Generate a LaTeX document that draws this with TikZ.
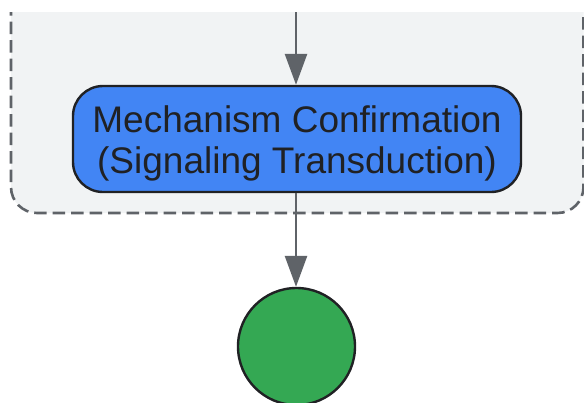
\documentclass[tikz,border=0pt]{standalone}
\usepackage{fontspec}
\setmainfont{Liberation Sans}
\usetikzlibrary{arrows.meta}
\definecolor{clusterbg}{HTML}{F1F3F4}
\definecolor{clusterline}{HTML}{5F6368}
\definecolor{nodeblue}{HTML}{4285F4}
\definecolor{nodegreen}{HTML}{34A853}
\definecolor{darkline}{HTML}{202124}
\definecolor{arrowgray}{HTML}{5F6368}
\tikzset{
  cluster/.style={fill=clusterbg, draw=clusterline, line width=2.6pt, dash pattern=on 12.5pt off 6pt, rounded corners=26pt},
  procbox/.style={draw=darkline, fill=nodeblue, line width=2.4pt, rounded corners=30pt, minimum width=448pt, minimum height=106pt, inner sep=0pt},
  proctext/.style={inner sep=0pt, align=center, text=darkline, font=\fontsize{37}{41}\selectfont},
  endcircle/.style={circle, draw=darkline, fill=nodegreen, line width=2.4pt, minimum size=117pt, inner sep=0pt},
  flow/.style={draw=arrowgray, line width=2.7pt, -{Triangle[length=31pt, width=22pt]}}
}
\begin{document}
\begin{tikzpicture}[x=1pt, y=-1pt]
\useasboundingbox (0,0) rectangle (584,402);
\fill[white] (0,0) rectangle (584,402);
\begin{scope}
\clip (0,12) rectangle (600,402);
\path[cluster] (11,-60) rectangle (583.5,213);
\end{scope}
\coordinate (topin) at (296,12);
\node[procbox] (mech) at (297,139) {};
\node[proctext, yshift=-4.5pt] (mechtext) at (mech.center) {Mechanism Confirmation\\(Signaling Transduction)};
\node[endcircle] (endn) at (296.5,346.5) {};
\draw[flow] (topin) -- (mech.north -| topin);
\draw[flow] (mech.south -| topin) -- (endn.north -| topin);
\end{tikzpicture}
\end{document}
